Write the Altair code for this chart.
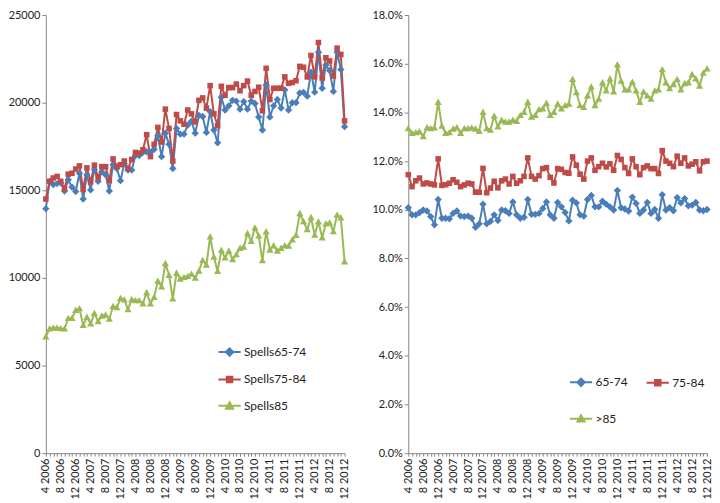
import altair as alt
import pandas as pd

# ---------------- data ----------------
month_labels = [f"{m} {y}" for y in range(2006, 2013) for m in range(1, 13) if (y, m) >= (2006, 4)]

left_names = ["Spells65-74", "Spells75-84", "Spells85"]
right_names = ["65-74", "75-84", ">85"]

spells_65_74 = [
    13950, 15510, 15330, 15380, 15420, 14960, 15600, 15180, 14930, 15970,
    14500, 15880, 15020, 16190, 15510, 16060, 15880, 14960, 16460, 16240,
    15550, 16520, 16150, 16150, 16980, 16980, 17160, 17200, 17160, 17340,
    18110, 16920, 18260, 17620, 16240, 18530, 18200, 18200, 18720, 18940,
    18260, 19270, 19210, 18300, 19490, 18440, 17710, 20310, 19580, 19820,
    20130, 20090, 19630, 20060, 19630, 20090, 19950, 19180, 18440, 21010,
    19180, 19820, 20180, 19690, 20730, 19580, 20000, 20000, 20550, 20590,
    20370, 21740, 20600, 22880, 20820, 22140, 21830, 20640, 22880, 21890,
    18630,
]
spells_75_84 = [
    14500, 15510, 15700, 15790, 15510, 15100, 15920, 15970, 16210, 16390,
    15050, 16280, 15480, 16430, 15730, 16350, 16340, 15550, 16790, 16370,
    16460, 16670, 16240, 16760, 17160, 17120, 17310, 18170, 16920, 17620,
    18590, 17750, 19630, 18530, 16670, 19320, 18960, 18770, 19580, 19360,
    18900, 20130, 20270, 19690, 20970, 19360, 18680, 20930, 20420, 20860,
    20860, 21060, 20680, 20970, 21230, 20420, 20640, 20880, 19540, 21960,
    20180, 20820, 20820, 20820, 21470, 21100, 21150, 21250, 22070, 22020,
    21470, 22690, 21470, 23430, 21410, 22560, 22380, 21520, 23110, 22750,
    18960,
]
spells_85 = [
    6650, 7100, 7150, 7150, 7110, 7100, 7700, 7700, 8160, 8250,
    7300, 7760, 7390, 7980, 7520, 7830, 7890, 7650, 8380, 8310,
    8840, 8750, 8200, 8770, 8710, 8710, 8530, 9170, 8530, 8900,
    9820, 9490, 10830, 10150, 8810, 10280, 9940, 10040, 10090, 10220,
    10000, 10400, 11010, 10740, 12350, 11200, 10380, 11580, 11150, 11540,
    11050, 11330, 11700, 11760, 12540, 12090, 12860, 12400, 10990, 12640,
    11600, 11840, 11540, 11700, 11840, 11820, 12180, 12430, 13680, 13220,
    12760, 13450, 12450, 13200, 12300, 13090, 13150, 12650, 13590, 13430,
    10930,
]

pct_65_74 = [
    10.08, 9.79, 9.79, 9.88, 9.99, 9.95, 9.72, 9.38, 10.42, 9.65,
    9.65, 9.63, 9.85, 9.95, 9.74, 9.72, 9.74, 9.65, 9.28, 9.42,
    10.23, 9.42, 9.52, 9.79, 9.56, 9.99, 9.96, 9.85, 10.32, 9.79,
    9.65, 9.69, 10.42, 9.81, 9.81, 9.85, 10.05, 10.32, 9.79, 9.65,
    10.30, 10.12, 9.89, 9.54, 10.39, 10.28, 9.79, 9.74, 10.42, 10.59,
    10.12, 10.12, 10.35, 10.23, 10.12, 9.99, 10.79, 10.08, 10.03, 9.95,
    10.52, 10.26, 9.85, 9.99, 10.30, 9.85, 10.01, 9.65, 10.62, 9.99,
    10.09, 9.96, 10.50, 10.28, 10.46, 10.16, 10.19, 10.30, 9.99, 9.96,
    10.01,
]
pct_75_84 = [
    11.44, 10.95, 11.19, 11.30, 11.06, 11.10, 11.06, 11.02, 12.09, 11.00,
    11.03, 11.09, 11.23, 11.13, 10.95, 11.02, 11.09, 11.06, 10.72, 10.72,
    11.70, 10.70, 10.89, 11.17, 10.90, 11.19, 11.26, 11.06, 11.37, 11.09,
    11.19, 11.37, 12.13, 11.37, 11.26, 11.40, 11.69, 11.73, 11.33, 11.10,
    11.69, 11.66, 11.53, 11.50, 12.17, 11.83, 11.46, 11.26, 12.00, 12.13,
    11.62, 11.77, 11.91, 11.76, 11.89, 11.62, 12.23, 12.07, 11.73, 11.49,
    12.09, 11.77, 11.44, 11.73, 11.80, 11.69, 11.69, 11.49, 12.43, 12.00,
    11.91, 11.77, 12.20, 11.91, 12.13, 11.80, 11.87, 11.97, 11.60, 11.97,
    12.00,
]
pct_85 = [
    13.34, 13.14, 13.17, 13.21, 13.01, 13.38, 13.34, 13.37, 14.42, 13.44,
    13.14, 13.17, 13.32, 13.38, 13.14, 13.34, 13.34, 13.37, 13.32, 13.23,
    14.01, 13.34, 13.28, 13.85, 13.41, 13.68, 13.61, 13.61, 13.68, 13.64,
    13.88, 14.01, 14.42, 13.81, 13.88, 14.12, 14.15, 14.38, 13.88, 14.01,
    14.35, 14.15, 14.28, 14.35, 15.36, 14.82, 14.28, 14.21, 14.68, 15.05,
    14.28, 14.55, 15.22, 14.89, 15.38, 14.85, 15.96, 15.29, 14.93, 14.93,
    15.25, 14.89, 14.42, 14.85, 14.68, 14.55, 14.89, 14.93, 15.76, 15.22,
    14.98, 15.15, 15.36, 14.93, 15.19, 15.22, 15.56, 15.38, 15.09, 15.62,
    15.79,
]

left_ticks = [0, 5000, 10000, 15000, 20000, 25000]
right_ticks = [0, 0.02, 0.04, 0.06, 0.08, 0.10, 0.12, 0.14, 0.16, 0.18]

# ---------------- styles ----------------
colors = ["#4A7EBB", "#BE4B48", "#98B954"]
marker_paths = [
    "M0,-0.33L0.33,0L0,0.33L-0.33,0Z",
    "M-0.25,-0.25H0.25V0.25H-0.25Z",
    "M0,-0.32L0.32,0.25H-0.32Z",
]
# legend symbols: line segment + marker
legend_paths = ["M-1,0H1" + p for p in marker_paths]
SYM = 500
FONT = "Lato"


def long_df(names, series, scale=1.0):
    rows = []
    for name, vals in zip(names, series):
        for m, v in zip(month_labels, vals):
            rows.append({"month": m, "series": name, "value": v * scale})
    return pd.DataFrame(rows)


x_axis = alt.Axis(
    values=month_labels,
    labelExpr="toNumber(split(datum.value, ' ')[0]) % 4 == 0 ? datum.value : ''",
    labelAngle=270,
    labelOverlap=False,
    labelBound=False,
    labelPadding=2,
    tickSize=3,
    title=None,
    grid=False,
)


def make_legend(lx, ly, columns, row_pad, direction):
    return alt.Legend(
        orient="none",
        legendX=lx,
        legendY=ly,
        title=None,
        columns=columns,
        direction=direction,
        symbolSize=SYM,
        symbolStrokeWidth=2,
        rowPadding=row_pad,
        columnPadding=14,
        labelOffset=2,
        padding=0,
    )


def panel(df, names, ticks, fmt, lx, ly, columns, row_pad, direction, width, height):
    legend = make_legend(lx, ly, columns, row_pad, direction)
    x = alt.X("month:O", sort=month_labels, scale=alt.Scale(type="point", padding=0), axis=x_axis)
    y = alt.Y(
        "value:Q",
        scale=alt.Scale(domain=[ticks[0], ticks[-1]], nice=False),
        axis=alt.Axis(values=ticks, format=fmt, grid=False, title=None, tickSize=4),
    )
    fill = alt.Fill("series:N", scale=alt.Scale(domain=names, range=colors), legend=legend)
    base = alt.Chart(df)
    lines = base.mark_line(strokeWidth=2).encode(
        x=x,
        y=y,
        color=alt.Color("series:N", scale=alt.Scale(domain=names, range=colors), legend=legend),
    )
    layers = [lines]
    for name, path in zip(names, marker_paths):
        layers.append(
            base.transform_filter(alt.datum.series == name)
            .mark_point(filled=True, size=SYM, opacity=1, shape=path)
            .encode(x=x, y=y, fill=fill)
        )
    # legend-only layer (no rows): supplies the line+marker legend symbols
    legend_layer = (
        base.transform_filter("false")
        .mark_point(filled=True, size=SYM, opacity=1)
        .encode(
            x=x,
            y=y,
            fill=fill,
            shape=alt.Shape("series:N", scale=alt.Scale(domain=names, range=legend_paths), legend=legend),
        )
    )
    layers.append(legend_layer)
    return alt.layer(*layers).properties(width=width, height=height)


left_df = long_df(left_names, [spells_65_74, spells_75_84, spells_85])
right_df = long_df(right_names, [pct_65_74, pct_75_84, pct_85], scale=0.01)

H = 440
W = 300
left = panel(left_df, left_names, left_ticks, "d", 172, 326, 1, 6.5, "vertical", W, H)
right = panel(right_df, right_names, right_ticks, ".1%", 161, 356, 2, 16, "horizontal", W, H)

chart = (
    alt.hconcat(left, right, spacing=22)
    .resolve_scale(color="independent", fill="independent", shape="independent")
    .properties(padding={"left": 0, "top": 0, "right": 0, "bottom": 0})
    .configure_view(stroke=None)
    .configure_axis(
        domainColor="#868686",
        tickColor="#868686",
        labelColor="#222222",
        labelFont=FONT,
        labelFontSize=11,
    )
    .configure_legend(labelFont=FONT, labelFontSize=12, labelColor="#222222")
)

chart.save("out.html", embed_options={"renderer": "svg", "actions": False})
